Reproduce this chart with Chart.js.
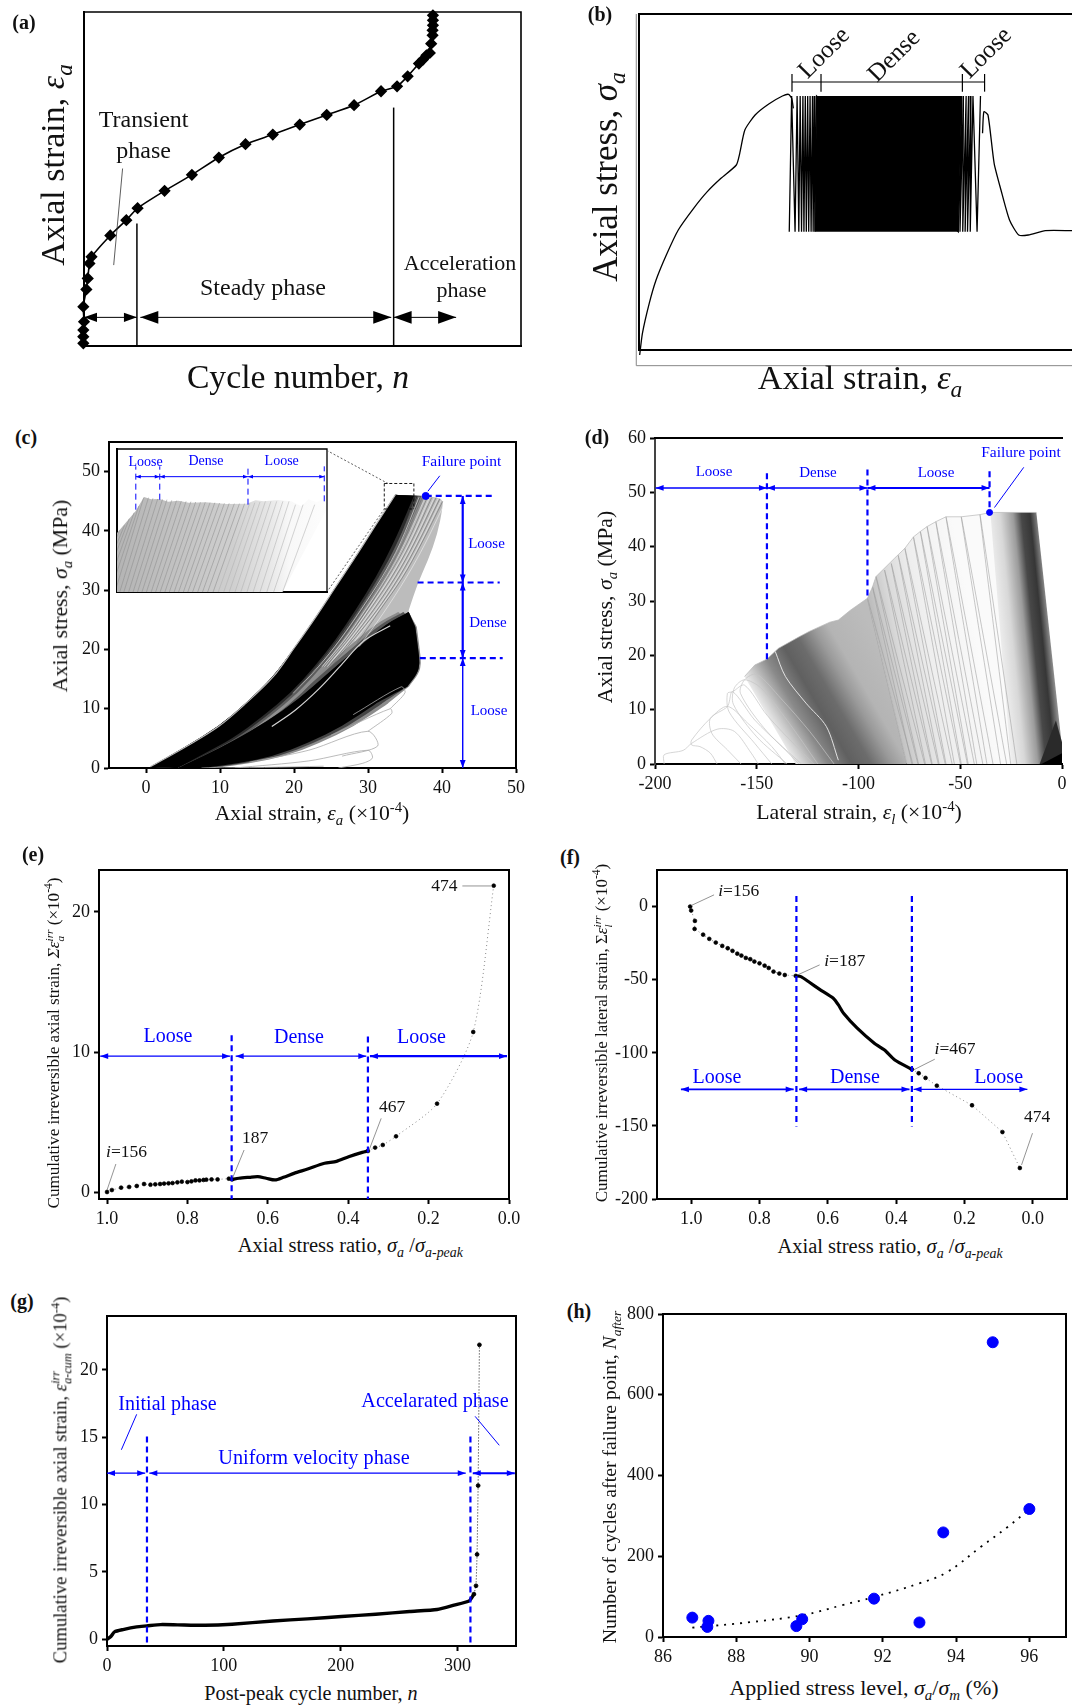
<!DOCTYPE html>
<html>
<head>
<meta charset="utf-8">
<script src="https://cdn.jsdelivr.net/npm/chart.js@4/dist/chart.umd.min.js"></script>
<style>
  html, body { margin: 0; background: #fff; }
  #page { position: relative; width: 1072px; height: 1705px; overflow: hidden; font-family: "Liberation Serif", serif; }
  #page canvas { position: absolute; }
  .t { position: absolute; white-space: nowrap; line-height: 1; }
  .t i { font-style: italic; }
  .t sub, .t sup { font-size: .68em; line-height: 0; }
  .ss { display: inline-block; vertical-align: middle; font-size: .66em; line-height: .95; text-align: left; font-style: italic; }
</style>
</head>
<body>
<div id="page"></div>
<script>
// (a) creep curve, no units on the axes
const aCycle = [-2,-2,-2,0,-2,7,11,16,22,77,124,157,236,316,395,473,553,632,711,791,870,917,948,981,993,1003,1013,1017,1021,1021,1022,1022,1022];
const aStrain = [8,28,48,73,118,170,203,248,268,332,378,414,466,514,566,606,635,665,694,723,765,780,810,848,860,873,880,908,933,948,963,978,993];

// (b) stress-strain, no units on the axes
const bRiseX = [2,10,30,50,80,115,160,200,240,285,295,310,340,380,420,438,447,452];
const bRiseY = [-15,50,140,210,285,360,425,475,515,555,590,660,705,738,762,767,755,725];
const bCycleBotX = [440,457,468,476,483,490,497,504,510,515,935,940,948,955,962,970,990];
const bCycleTopX = [447,463,472,480,487,494,501,508,513,520,945,950,958,965,972,978,1000];
const bTailX = [1006,1010,1022,1040,1060,1085,1112,1140,1190,1268];
const bTailY = [650,715,705,560,480,390,345,345,358,358];

// (c) stress vs axial strain envelopes
const c1UpperX = [0.56,5.4,9.8,13.5,17.2,20,22.8,25.6,28.3,31.1,33.7];
const c1UpperY = [0.2,3.6,7,10.9,15.4,20.2,25.2,30.5,35.6,41.1,46.1];
const c1RightX = [36.2,35,33.4,31.1,28.3,25.6,22.8,19.5,15.8,11.7,8,4.3];
const c1RightY = [45.9,42.3,37.8,32.2,26.6,21.6,17.1,12.6,8.7,5,2.5,0];
const cFanX = [36.9,40.1,40.1,39.4,38.1,36.7,35.5];
const cFanY = [45.9,45.6,44,39.5,35,31.1,26.6];
const c2UpperX = [35.5,32.5,28.8,24.6,20.5,16.3,11.7,8,4.3];
const c2UpperY = [26.3,24.4,20.5,16,11.5,7.8,4.5,2.2,0];
const c2RightX = [36.4,36.8,37,36.7,35.3];
const c2RightY = [23.8,19.9,17.7,16,13.7];
const c2LowerX = [31.1,26.5,21.9,17.2,12.6,7.5];
const c2LowerY = [10.9,7,4.2,2,0.8,0];
const cFanLinesX = [[36.5,34,31.5,28.7,25.9,23.1,19.8],[36.9,34.3,31.9,29,26.2,23.3,19.9],[37.3,34.6,32.2,29.3,26.5,23.5,20],[37.7,34.9,32.5,29.6,26.8,23.8],[38,35.2,32.7,29.8,27,24],[38.3,35.5,33,30,27.1,24.1],[38.6,35.7,33.2,30.2,27.3,24.3],[38.9,36,33.5,30.5,27.5,24.5],[39.2,36.2,33.7,30.7,27.7,24.7],[39.5,36.5,34,31,27.9],[39.7,36.7,34.2,31.2,28,25],[39.9,37,34.5,31.4,28.2],[40.1,37.2,34.7,31.6,28.5],[40.1,37.7,35.2,32,28.8]];
const cFanLinesY = [[45.8,37.8,32.2,26.6,21.6,17.1,12.6],[45.7,37.8,32.2,26.6,21.6,17.1,12.6],[45.6,37.8,32.2,26.6,21.6,17.1,12.6],[45.6,37.8,32.2,26.6,21.6,17.1],[45.6,37.8,32.2,26.6,21.6,17.1],[45.6,37.8,32.2,26.6,21.6,17.1],[45.6,37.8,32.2,26.6,21.6,17.1],[45.5,37.8,32.2,26.6,21.6,17.1],[45.6,37.8,32.2,26.6,21.6,17.1],[45.5,37.8,32.2,26.6,21.6],[45.4,37.8,32.2,26.6,21.6,17.1],[45.2,37.8,32.2,26.6,21.4],[45,37.8,32.2,26.6,21],[44,37.8,32.2,26,20.5]];
const cStreakX = [33,29.4,26.4,23.4,20.2,17];
const cStreakY = [24,21.4,17.4,13.4,9.8,7];
const cLoopsX = [[26,29.3,30.6,30,22,12],[26.5,31.3,30,22,14],[30,33.2,33,25],[33,35,34.5,28],[7.5,16,24]];
const cLoopsY = [[0,0.8,1.7,3,1.2,0],[2,3.7,6.2,3,1],[6.2,9.2,10,5.5],[10,12.7,13.7,9],[0,0.1,0.3]];
const cFailX = [37.8];
const cFailY = [45.9];
const cTicksX = [0,10,20,30,40,50];
const cTicksY = [0,10,20,30,40,50];

// (c) inset, local zoomed units
const insetEdgeX = [0,0,54,79,100,124,150,179,210,259,320,379,405,429,470,509,539,560,584,600,609,614,484];
const insetEdgeY = [0,177,242,285,278,279,271,274,268,269,264,265,275,272,276,272,257,278,269,280,257,250,0];
const insetBotX = [-90,-74,-60,-47,-33,-20,-6,8,20,34,47,60,73,86,100,113,126,140,153,167,180,194,207,221,236,250,265,281,296,312,328,345,362,380,398,418,438,458,484];
const insetTopX = [-8,8,22,36,50,64,78,92,105,119,133,146,160,174,188,202,216,230,244,258,272,286,300,314,328,343,358,373,388,403,418,434,450,467,485,503,522,544,578];
const insetTopY = [170,185,200,220,238,258,283,283,281,279,278,277,275,274,273,272,271,270,269,269,268,268,267,266,266,265,265,265,266,268,270,272,272,272,272,272,262,262,262];

// (d) stress vs lateral strain
const dEnvX = [-12.6,-35.2,-40.3,-49.5,-57,-62,-66.3,-69.6,-73,-77.2,-82.2,-91.4,-93.1,-95.6,-104,-109.9,-114.1,-124.2,-129.2,-139.3,-145.1,-151,-156];
const dEnvY = [46.3,46.3,45.9,45.5,45.5,44.6,43.7,42.8,41.8,39.7,37.9,34.5,32.6,30.5,28.3,26.5,26.1,24.4,23.4,21.3,19.3,18.2,16.1];
const dLoopTopX = [-40.3,-49.5,-57,-62,-66.3,-69.6,-73,-77.2,-80.5,-83.9,-87.2,-91.4,-93.1,-95.6];
const dLoopTopY = [45.9,45.5,45.5,44.6,43.7,42.8,41.8,39.7,38.4,36.9,35.7,34.5,32.6,30.5];
const dLoopBotX = [-25.2,-30.2,-36.9,-41.9,-46.1,-49.5,-52.9,-57,-60.4,-63.8,-67.1,-70.5,-73.8,-76.3];
const dOuterLoopsX = [[-195.5,-195.5,-186.2,-182,-169.5,-161,-152.7,-149.3],[-169.5,-172.8,-177.9,-182,-182,-172.8,-164.4,-154.4,-142.6,-135.9],[-157.7,-164.4,-172,-172.8,-164.4,-161.9,-151,-137.6,-129.2],[-142.6,-151,-163.6,-164.4,-161.9,-156,-145,-130,-122],[-135,-150,-161.5,-161,-156,-148,-135,-120],[-128,-145,-158,-156,-150,-138,-124,-112]];
const dOuterLoopsY = [[0,1.7,2.5,3.8,6.4,6,2,0],[0,2,3.2,3.5,4.4,8.4,10.6,7.5,3.2,0],[0,2.6,5.6,8.4,10.6,13.3,8.1,3.2,0],[0,3.8,9.6,13,13.3,14.5,9,3,0],[0,5,11,14,15.5,14,8,0],[0,6,13,15.5,16.5,12,6,0]];
const dWhiteX = [-140.9,-135.9,-125.8,-115.8,-109.9];
const dWhiteY = [20.7,16.1,11.2,6.9,0.7];
const dFailX = [-35.6];
const dFailY = [46.3];
const dTicksX = [-200,-150,-100,-50,0];
const dTicksY = [0,10,20,30,40,50,60];

// (e) cumulative irreversible axial strain
const eRatio = [1,0.988,0.965,0.945,0.926,0.908,0.892,0.88,0.868,0.858,0.847,0.837,0.825,0.814,0.8,0.79,0.78,0.77,0.76,0.753,0.74,0.725,0.697,0.689];
const eStrain = [0,0.14,0.31,0.36,0.43,0.57,0.52,0.55,0.57,0.6,0.62,0.64,0.69,0.74,0.71,0.76,0.83,0.83,0.86,0.88,0.9,0.9,0.95,0.9];
const eDenseRatio = [0.689,0.672,0.646,0.625,0.604,0.582,0.561,0.535,0.501,0.459,0.429,0.399,0.365,0.351];
const eDenseStrain = [0.9,0.98,1.05,1.1,0.98,0.86,1.05,1.33,1.64,2.05,2.19,2.52,2.83,2.93];
const eEndRatio = [0.351,0.333,0.314,0.281,0.179,0.089,0.038];
const eEndStrain = [2.93,3.17,3.36,3.98,6.31,11.43,21.88];
const eTicksX = [1,0.8,0.6,0.4,0.2,0];
const eTicksY = [0,10,20];

// (f) cumulative irreversible lateral strain
const fRatio = [1.003,1,0.989,0.99,0.965,0.947,0.928,0.909,0.893,0.879,0.865,0.853,0.84,0.827,0.815,0.8,0.785,0.773,0.759,0.742,0.726,0.694];
const fStrain = [0,-2.7,-9.8,-15.3,-19.2,-22.1,-24.6,-26.9,-28.5,-30.3,-32.2,-33.5,-35.1,-36,-37.6,-38.8,-40.4,-42,-44.5,-45.8,-46.8,-47.4];
const fDenseRatio = [0.694,0.679,0.654,0.624,0.584,0.569,0.554,0.514,0.464,0.434,0.404,0.354];
const fDenseStrain = [-47.4,-47.9,-51.8,-56.6,-62.7,-67.3,-73,-83.2,-93.5,-98.1,-104.9,-111.3];
const fEndRatio = [0.354,0.334,0.314,0.281,0.178,0.089,0.038];
const fEndStrain = [-111.3,-114,-117.2,-122.5,-135.9,-154.2,-178.8];
const fTicksX = [1,0.8,0.6,0.4,0.2,0];
const fTicksY = [-200,-150,-100,-50,0];

// (g) post-peak cycles
const gCycle = [0,3.5,6.4,13.7,25.4,34,46,60.5,84,107,142,171.5,200.7,230,259,282.5,297,310,314];
const gStrain = [0,0.22,0.55,0.72,0.92,0.99,1.09,1.07,1.04,1.12,1.36,1.51,1.69,1.86,2.06,2.21,2.53,2.85,3.35];
const gEndCycle = [314,315.8,316.7,317.6,318.7];
const gEndStrain = [3.35,3.97,6.3,11.41,21.86];
const gTicksX = [0,100,200,300];
const gTicksY = [0,5,10,15,20];

// (h) cycles after failure point
const hLevel = [86.8,87.24,87.21,89.64,89.8,91.76,93,93.65,95,96];
const hCycles = [48,40,25,27,44,95,36,259,730,317];
const hTrendLevel = [86.8,88.4,89.8,90.9,91.76,93,93.74,94.7,95.4,96];
const hTrendCycles = [23,37,54,79,99,133,160,225,272,316];
const hTicksX = [86,88,90,92,94,96];
const hTicksY = [0,200,400,600,800];

const page = document.getElementById("page");
const BLUE = "#0000ff";
const FONT = "'Liberation Serif', serif";

function pairs(xs, ys) {
  return xs.map((x, i) => ({ x: x, y: ys[i] }));
}

function ser(xs, ys, opts) {
  return Object.assign({
    data: pairs(xs, ys), showLine: true, pointRadius: 0, borderColor: "#000",
    borderWidth: 1, backgroundColor: "#000", fill: false,
  }, opts);
}

function seg(x1, y1, x2, y2, opts) {
  return Object.assign({ x1, y1, x2, y2, color: "#000", w: 1 }, opts);
}

function blueDash(x1, y1, x2, y2, w) {
  return seg(x1, y1, x2, y2, { color: BLUE, w: w || 2.2, dash: [6, 4] });
}

function blueArrow(x1, y1, x2, y2, w, head) {
  return seg(x1, y1, x2, y2, { color: BLUE, w: w || 1.5, arrow: true, head: head || 8 });
}

function leader(x1, y1, x2, y2) {
  return seg(x1, y1, x2, y2, { color: "#666", w: 0.7 });
}

function blueLine(x1, y1, x2, y2) {
  return seg(x1, y1, x2, y2, { color: BLUE, w: 1 });
}

// joins outline runs into one polygon, end points doubled so they stay sharp when smoothed
function outline(runs, color, smooth) {
  const x = [], y = [];
  runs.forEach((r) => {
    const last = r[0].length - 1;
    x.push(r[0][0]); y.push(r[1][0]);
    r[0].forEach((v, i) => { x.push(v); y.push(r[1][i]); });
    x.push(r[0][last]); y.push(r[1][last]);
  });
  return { x, y, color, smooth };
}

function shift(xs, d) {
  return xs.map((v) => v + d);
}

function back(a) {
  return a.slice().reverse();
}

// polygons under the lines, segments and arrowheads over them, all through the scales
function marksPlugin(cfg) {
  const px = (c, v) => c.scales.x.getPixelForValue(v);
  const py = (c, v) => c.scales.y.getPixelForValue(v);
  return {
    id: "marks",
    beforeDatasetsDraw(c) {
      const ctx = c.ctx, a = c.chartArea;
      ctx.save();
      ctx.beginPath();
      ctx.rect(a.left, a.top, a.width, a.height);
      ctx.clip();
      (cfg.polys || []).forEach((p) => {
        const pts = p.x.map((v, i) => [px(c, v), py(c, p.y[i])]);
        ctx.beginPath();
        if (p.smooth) {
          const n = pts.length;
          const mid = (i) => [(pts[i % n][0] + pts[(i + 1) % n][0]) / 2, (pts[i % n][1] + pts[(i + 1) % n][1]) / 2];
          ctx.moveTo(mid(n - 1)[0], mid(n - 1)[1]);
          pts.forEach((q, i) => { const m = mid(i); ctx.quadraticCurveTo(q[0], q[1], m[0], m[1]); });
        } else {
          pts.forEach((q) => ctx.lineTo(q[0], q[1]));
        }
        ctx.closePath();
        if (p.grad) {
          const g = ctx.createLinearGradient(a.left, 0, a.right, 0);
          p.grad.forEach((s) => g.addColorStop(s[0], s[1]));
          ctx.fillStyle = g;
        } else if (p.skew) {
          // gradient whose bands lean by s px sideways for each px down
          const k = p.skew;
          const X0 = px(c, k.x0), D = px(c, k.x1) - X0, Y = py(c, k.y), m = D / (1 + k.s * k.s);
          const g = ctx.createLinearGradient(X0, Y, X0 + m, Y - m * k.s);
          k.stops.forEach((s) => g.addColorStop(s[0], s[1]));
          ctx.fillStyle = g;
        } else {
          ctx.fillStyle = p.color;
        }
        ctx.fill();
      });
      ctx.restore();
    },
    afterDatasetsDraw(c) {
      const ctx = c.ctx, a = c.chartArea;
      ctx.save();
      (cfg.segs || []).forEach((s) => {
        const x1 = px(c, s.x1), y1 = py(c, s.y1), x2 = px(c, s.x2), y2 = py(c, s.y2);
        ctx.strokeStyle = s.color;
        ctx.fillStyle = s.color;
        ctx.lineWidth = s.w;
        ctx.setLineDash(s.dash || []);
        ctx.beginPath();
        ctx.moveTo(x1, y1);
        ctx.lineTo(x2, y2);
        ctx.stroke();
        if (s.arrow) {
          ctx.setLineDash([]);
          const h = s.head || 8, t = Math.atan2(y2 - y1, x2 - x1);
          [[x2, y2, t], [x1, y1, t + Math.PI]].forEach((e) => {
            ctx.save();
            ctx.translate(e[0], e[1]);
            ctx.rotate(e[2]);
            ctx.beginPath();
            ctx.moveTo(0, 0);
            ctx.lineTo(-h, -h * 0.36);
            ctx.lineTo(-h, h * 0.36);
            ctx.closePath();
            ctx.fill();
            ctx.restore();
          });
        }
      });
      ctx.setLineDash([]);
      const w = cfg.frameWidth || 2;
      ctx.strokeStyle = "#000";
      ctx.lineWidth = w;
      ctx.beginPath();
      if (cfg.frameTop !== false) { ctx.moveTo(a.left - w / 2, a.top); ctx.lineTo(a.right + w / 2, a.top); }
      if (cfg.frameRight !== false) { ctx.moveTo(a.right, a.top); ctx.lineTo(a.right, a.bottom); }
      ctx.stroke();
      ctx.restore();
    },
  };
}

function axis(min, max, ticks, size, opts, reverse, onFit) {
  const hasTicks = ticks && ticks.length > 0;
  return {
    type: "linear", min: min, max: max, reverse: !!reverse,
    afterBuildTicks: (s) => { s.ticks = (ticks || []).map((v) => ({ value: v })); },
    afterFit: (s) => {
      onFit(s);
      // keep half a tick label from eating into the plot rectangle
      s.paddingLeft = s.paddingRight = s.paddingTop = s.paddingBottom = 0;
    },
    grid: { display: hasTicks, drawOnChartArea: false, drawTicks: hasTicks, tickLength: 5, tickWidth: 2, tickColor: "#000" },
    border: { display: true, color: (opts && opts.borderColor) || "#000", width: (opts && opts.borderWidth) || 2 },
    ticks: {
      display: hasTicks, autoSkip: false, maxRotation: 0, padding: 4, color: "#111",
      font: { family: FONT, size: size || 18 },
      callback: (opts && opts.format) || ((v) => String(v)),
    },
  };
}

function panel(rect, xs, ys, datasets, marks, margin) {
  const m = Object.assign({ l: 62, b: 34, t: 14, r: 16 }, margin);
  const cv = document.createElement("canvas");
  cv.width = rect.w + m.l + m.r;
  cv.height = rect.h + m.t + m.b;
  cv.style.left = (rect.x - m.l) + "px";
  cv.style.top = (rect.y - m.t) + "px";
  page.appendChild(cv);
  datasets.forEach((d, i) => { d.order = -i; });
  return new Chart(cv, {
    type: "scatter",
    data: { datasets: datasets },
    options: {
      responsive: false, animation: false, maintainAspectRatio: false,
      layout: { autoPadding: false, padding: { top: m.t, right: m.r, left: 0, bottom: 0 } },
      plugins: { legend: { display: false }, tooltip: { enabled: false } },
      scales: {
        x: axis(xs[0], xs[1], xs[2], xs[3], xs[4], xs[5], (s) => { s.height = m.b; }),
        y: axis(ys[0], ys[1], ys[2], ys[3], ys[4], false, (s) => { s.width = m.l; }),
      },
    },
    plugins: [marksPlugin(marks || {})],
  });
}

function text(html, x, y, size, opts) {
  const o = opts || {};
  const d = document.createElement("div");
  d.className = "t";
  d.innerHTML = html;
  d.style.left = x + "px";
  d.style.top = y + "px";
  d.style.fontSize = size + "px";
  d.style.color = o.color || "#111";
  if (o.bold) d.style.fontWeight = "bold";
  d.style.transform = "translate(-50%,-50%)" + (o.rot ? " rotate(" + o.rot + "deg)" : "");
  page.appendChild(d);
}

// (a)
panel({ x: 84, y: 12, w: 437, h: 334 }, [0, 1280], [0, 1003],
  [
    ser(aCycle, aStrain, { borderWidth: 1.6, tension: 0.2, pointRadius: 5, pointStyle: "rectRot", pointBackgroundColor: "#000", clip: false }),
  ],
  { frameWidth: 1.6, segs: [
    seg(155, 0, 155, 368, { w: 1.5 }),
    seg(907, 0, 907, 716, { w: 1.5 }),
    seg(0, 86, 155, 86, { arrow: true, head: 13 }),
    seg(165, 86, 900, 86, { arrow: true, head: 18 }),
    seg(907, 86, 1090, 86, { arrow: true, head: 18 }),
    seg(113, 533, 87, 243, { w: 0.8, color: "#333" }),
  ] });

// (b)
const bZig = [];
bCycleBotX.forEach((x, i) => {
  bZig.push({ x: x, y: 355 });
  bZig.push({ x: bCycleTopX[i], y: 762 });
});
panel({ x: 638.5, y: 14, w: 433.5, h: 336 }, [0, 1268], [0, 1008],
  [
    ser(bRiseX, bRiseY, { borderWidth: 1.3, tension: 0.2, clip: false }),
    { data: bZig, showLine: true, pointRadius: 0, borderColor: "#000", borderWidth: 1.3 },
    ser(bTailX, bTailY, { borderWidth: 1.3, tension: 0.2 }),
  ],
  { frameRight: false, polys: [
    { x: [515, 935, 945, 520], y: [355, 355, 762, 762], color: "#000" },
  ], segs: [
    seg(-8, 1008, -8, -47, { color: "#888", w: 1 }),
    seg(-8, -47, 1268, -47, { color: "#888", w: 1 }),
    seg(448, 804, 1012, 804, { w: 1.2 }),
    seg(448, 775, 448, 828, { w: 1.2 }),
    seg(533, 775, 533, 828, { w: 1.2 }),
    seg(947, 775, 947, 828, { w: 1.2 }),
    seg(1012, 775, 1012, 828, { w: 1.2 }),
  ] }, { r: 0 });

// (c)
const cDatasets = [];
cFanLinesX.forEach((xs, i) => {
  cDatasets.push(ser(xs, cFanLinesY[i], { borderColor: i % 2 ? "#f2f2f2" : "#6a6a6a", borderWidth: 0.6, tension: 0.35 }));
});
cLoopsX.forEach((xs, i) => {
  cDatasets.push(ser(xs, cLoopsY[i], { borderColor: "#aaa", borderWidth: 0.8, tension: 0.3 }));
});
cDatasets.push(ser(cStreakX, cStreakY, { borderColor: "#d4d4d4", borderWidth: 1.2, tension: 0.35 }));
cDatasets.push(ser(c1UpperX, c1UpperY, { borderColor: "#bbb", borderWidth: 1.2, tension: 0.35 }));
cDatasets.push(ser(cFailX, cFailY, { showLine: false, pointRadius: 3.5, pointBackgroundColor: BLUE, pointBorderColor: BLUE }));

const c1Up = [c1UpperX, c1UpperY];
const c1Right = [c1RightX, c1RightY];
const cRevFan = [back(cFanX), back(cFanY)];
const c2Up = [c2UpperX, c2UpperY];
const c2Low = [back(c2LowerX), back(c2LowerY)];
const c2Rt = [back(c2RightX), back(c2RightY)];
panel({ x: 108.7, y: 442, w: 407, h: 326 }, [-5, 50, cTicksX, 18], [0, 55, cTicksY, 18], cDatasets, {
  polys: [
    outline([c1Right, [back(c2UpperX), back(c2UpperY)], cRevFan], "#bcbcbc", true),
    outline([[shift(c2UpperX, -1.4), c2UpperY], c2Low, c2Rt], "#8c8c8c", true),
    outline([[shift(c2UpperX, -0.7), c2UpperY], c2Low, c2Rt], "#555555", true),
    outline([[shift(c1RightX, 1.6), c1RightY], c1Up], "#8f8f8f", true),
    outline([[shift(c1RightX, 1), c1RightY], c1Up], "#5c5c5c", true),
    outline([[shift(c1RightX, 0.5), c1RightY], c1Up], "#2c2c2c", true),
    outline([c1Up, c1Right], "#000", true),
    outline([c2Up, [back(shift(c2LowerX, 1.6)), back(c2LowerY)], [back(shift(c2RightX, 0.2)), back(c2RightY)]], "#8c8c8c", true),
    outline([c2Up, [back(shift(c2LowerX, 0.8)), back(c2LowerY)], c2Rt], "#444", true),
    outline([c2Up, c2Low, c2Rt], "#000", true),
  ],
  segs: [
    seg(32.2, 43.7, 36.2, 43.7, { w: 0.9, dash: [3, 2] }),
    seg(32.2, 48, 36.2, 48, { w: 0.9, dash: [3, 2] }),
    seg(32.2, 48, 32.2, 43.7, { w: 0.9, dash: [3, 2] }),
    seg(36.2, 48, 36.2, 43.7, { w: 0.9, dash: [3, 2] }),
    seg(24.4, 53.6, 32.7, 48, { w: 0.8, dash: [2, 2], color: "#333" }),
    seg(24.4, 29.6, 32.2, 43.7, { w: 0.8, dash: [2, 2], color: "#333" }),
    blueDash(37.8, 45.9, 46.9, 45.9),
    blueDash(36.7, 31.3, 47.8, 31.3),
    blueDash(37, 18.55, 48.2, 18.55),
    blueArrow(42.8, 45.9, 42.8, 31.3, 2.2, 8),
    blueArrow(42.8, 31.3, 42.8, 18.55, 2.2, 8),
    blueArrow(42.8, 18.55, 42.8, 0, 1.4, 8),
    seg(39.7, 49.3, 38.1, 46.7, { color: BLUE, w: 1 }),
  ],
});

// inset of (c)
const insetSets = insetBotX.map((b, i) => ser([b, insetTopX[i]], [0, insetTopY[i]], { borderColor: i < 28 ? "#8d8d8d" : "#b0b0b0", borderWidth: 0.55 }));
const insetChart = panel({ x: 116.6, y: 449, w: 210, h: 143 }, [0, 614], [0, 429], insetSets, {
  frameWidth: 1.3,
  polys: [
    { x: insetEdgeX, y: insetEdgeY, grad: [[0, "#b4b4b4"], [0.55, "#cfcfcf"], [0.72, "#e6e6e6"], [0.82, "#f8f8f8"], [1, "#fdfdfd"]] },
  ],
  segs: [
    blueDash(55, 247, 55, 377, 1), blueDash(125, 277, 125, 377, 1),
    blueDash(383, 262, 383, 372, 1), blueDash(606, 272, 606, 377, 1),
    blueArrow(55, 346, 125, 346, 1, 5), blueArrow(125, 346, 383, 346, 1, 5), blueArrow(383, 346, 606, 346, 1, 5),
  ],
}, { l: 1, b: 1, t: 1, r: 1 });
insetChart.canvas.style.background = "#fff";

// (d)
const dDatasets = [];
dLoopTopX.forEach((tx, i) => {
  dDatasets.push(ser([dLoopBotX[i], tx, dLoopBotX[i] + 3], [0, dLoopTopY[i], 0], { borderColor: "#9a9a9a", borderWidth: 0.55, tension: 0.15 }));
});
dOuterLoopsX.forEach((xs, i) => {
  dDatasets.push(ser(xs, dOuterLoopsY[i], { borderColor: "#c4c4c4", borderWidth: 0.7, tension: 0.3 }));
});
dDatasets.push(ser(dEnvX, dEnvY, { borderColor: "#b8b8b8", borderWidth: 0.7 }));
dDatasets.push(ser(dWhiteX, dWhiteY, { borderColor: "#eee", borderWidth: 0.9, tension: 0.3 }));
dDatasets.push(ser(dFailX, dFailY, { showLine: false, pointRadius: 3, pointBackgroundColor: BLUE, pointBorderColor: BLUE }));

panel({ x: 655, y: 438, w: 407.5, h: 326 }, [-200, 0, dTicksX, 18], [0, 60, dTicksY, 18, { borderColor: "#444" }], dDatasets, {
  frameRight: false,
  polys: [
    { x: [-156, -151, -145.1, -139.3, -129.2, -124.2, -114.1, -109.9, -104, -95.6, -76.3, -130.9], y: [16.1, 18.2, 19.3, 21.3, 23.4, 24.4, 26.1, 26.5, 28.3, 30.5, 0, 0],
      skew: { x0: -150, x1: -70, y: 10, s: 0.58, stops: [[0.03, "#f0f0f0"], [0.11, "#cbcbcb"], [0.24, "#8a8a8a"], [0.39, "#606060"], [0.51, "#6c6c6c"], [0.64, "#9a9a9a"], [0.74, "#b4b4b4"], [1, "#bcbcbc"]] } },
    { x: [-95.6, -93.1, -91.4, -82.2, -77.2, -73, -69.6, -66.3, -62, -57, -49.5, -40.3, -35.2, -20, -76.3], y: [30.5, 32.6, 34.5, 37.9, 39.7, 41.8, 42.8, 43.7, 44.6, 45.5, 45.5, 45.9, 46.3, 0, 0],
      skew: { x0: -84, x1: -35, y: 10, s: 0.2, stops: [[0, "#bcbcbc"], [0.2, "#d8d8d8"], [0.5, "#eeeeee"], [1, "#fafafa"]] } },
    { x: [-35.2, -12.6, -0.2, 0, -25], y: [46.3, 46.3, 3.8, 0, 0],
      skew: { x0: -32, x1: -5, y: 20, s: 0.1, stops: [[0, "#f6f6f6"], [0.31, "#d8d8d8"], [0.55, "#9c9c9c"], [0.7, "#484848"], [0.86, "#363636"], [1, "#8c8c8c"]] } },
    { x: [-11, -3, 0, 0], y: [0, 8, 4, 0], color: "#2a2a2a" },
    { x: [-10.1, 0, 0], y: [0, 2, 0], color: "#000" },
  ],
  segs: [
    blueDash(-145, 53.5, -145, 19.3), blueDash(-95.6, 54.2, -95.6, 30.5), blueDash(-35.6, 53.9, -35.6, 46.4),
    blueArrow(-199.7, 50.8, -145, 50.8, 1.5), blueArrow(-145, 50.8, -95.6, 50.8, 1.5), blueArrow(-95.6, 50.8, -35.6, 50.8, 2, 8),
    seg(-18.8, 54.6, -33.2, 47.2, { color: BLUE, w: 1 }),
  ],
});

// (e)
panel({ x: 99, y: 870, w: 410, h: 329 }, [0, 1.02, eTicksX, 18, { format: (v) => v.toFixed(1) }, true], [-0.5, 23, eTicksY, 18], [
  ser(eRatio, eStrain, { borderColor: "#555", borderWidth: 0.7, borderDash: [1, 3], pointRadius: 1.9, pointBackgroundColor: "#000", pointBorderColor: "#000" }),
  ser(eDenseRatio, eDenseStrain, { borderWidth: 3.2, tension: 0.25 }),
  ser(eEndRatio, eEndStrain, { borderColor: "#555", borderWidth: 0.7, borderDash: [1, 3], pointRadius: 1.9, pointBackgroundColor: "#000", pointBorderColor: "#000", tension: 0.25 }),
], {
  segs: [
    blueDash(0.69, 11.2, 0.69, -0.5), blueDash(0.351, 11.1, 0.351, -0.5),
    blueArrow(1.017, 9.7, 0.694, 9.7, 1.3), blueArrow(0.68, 9.7, 0.355, 9.7, 1.3), blueArrow(0.346, 9.7, 0.005, 9.7, 2.2),
    leader(0.116, 21.86, 0.045, 21.86), leader(0.659, 3, 0.687, 1.05), leader(0.978, 2, 1, 0.14), leader(0.318, 5.26, 0.348, 3),
  ],
});

// (f)
panel({ x: 657, y: 870, w: 410, h: 329 }, [-0.1, 1.1, fTicksX, 18, { format: (v) => v.toFixed(1) }, true], [-200, 25, fTicksY, 18], [
  ser(fRatio, fStrain, { borderColor: "#555", borderWidth: 0.7, borderDash: [1, 3], pointRadius: 1.9, pointBackgroundColor: "#000", pointBorderColor: "#000" }),
  ser(fDenseRatio, fDenseStrain, { borderWidth: 3.2, tension: 0.2 }),
  ser(fEndRatio, fEndStrain, { borderColor: "#555", borderWidth: 0.7, borderDash: [1, 3], pointRadius: 1.9, pointBackgroundColor: "#000", pointBorderColor: "#000" }),
], {
  segs: [
    blueDash(0.692, 7.3, 0.692, -150.5), blueDash(0.354, 7.3, 0.354, -150.5),
    blueArrow(1.03, -125, 0.7, -125, 1.8), blueArrow(0.684, -125, 0.361, -125, 1.8), blueArrow(0.349, -125, 0.016, -125, 1.3),
    leader(0.933, 8, 1, 0.7), leader(0.624, -39.9, 0.689, -46.8), leader(0.287, -104.4, 0.349, -111.7), leader(0.001, -155, 0.033, -176.7),
  ],
});

// (g)
panel({ x: 107, y: 1316, w: 409, h: 330 }, [0, 350, gTicksX, 18], [-0.5, 24, gTicksY, 18], [
  ser(gCycle, gStrain, { borderWidth: 3.4, tension: 0.2 }),
  ser(gEndCycle, gEndStrain, { borderWidth: 0.9, borderDash: [1, 2], pointRadius: 1.9, pointBackgroundColor: "#000", pointBorderColor: "#000" }),
], {
  segs: [
    blueDash(34.2, 15.06, 34.2, -0.5), blueDash(311, 15.06, 311, -0.5),
    blueArrow(0, 12.33, 32.7, 12.33, 1.3), blueArrow(36.2, 12.33, 307, 12.33, 1.3), blueArrow(313, 12.33, 349, 12.33, 2),
    blueLine(25.4, 16.7, 12.3, 14.07), blueLine(315, 16.55, 335.7, 14.4),
  ],
});

// (h)
panel({ x: 663, y: 1314, w: 403.5, h: 323 }, [86, 97, hTicksX, 18], [0, 800, hTicksY, 18], [
  ser(hTrendLevel, hTrendCycles, { borderWidth: 1.8, borderDash: [2, 6], tension: 0.4 }),
  ser(hLevel, hCycles, { showLine: false, pointRadius: 5.5, pointBackgroundColor: BLUE, pointBorderColor: BLUE }),
]);

// text
const sa = "<i>σ<sub>a</sub></i>";
const ea = "<i>ε<sub>a</sub></i>";
const e4 = "(×10<sup>-4</sup>)";

[["(a)", 24, 22], ["(b)", 600, 14], ["(c)", 26, 437], ["(d)", 597, 437], ["(e)", 33, 854], ["(f)", 570, 857], ["(g)", 22, 1301], ["(h)", 579, 1311]]
  .forEach((t) => text(t[0], t[1], t[2], 20, { bold: true }));

text("Axial strain, " + ea, 53, 165, 34, { rot: -90 });
text("Cycle number, <i>n</i>", 298, 377, 33.7);
text("Transient", 143.6, 119, 24);
text("phase", 143.6, 150, 24);
text("Steady phase", 263, 287, 24);
text("Acceleration", 460, 263, 22);
text("phase", 461.5, 290, 22);

text("Axial stress, " + sa, 606, 177, 34.8, { rot: -90 });
text("Axial strain, " + ea, 860, 377, 34.5);
text("Loose", 822.5, 52, 25, { rot: -45 });
text("Dense", 892.6, 55, 25, { rot: -45 });
text("Loose", 985, 52, 25, { rot: -45 });

text("Axial stress, " + sa + " (MPa)", 61, 596, 21.8, { rot: -90 });
text("Axial strain, " + ea + " " + e4, 312, 814, 21.7);
text("Failure point", 461.5, 461, 15.5, { color: BLUE });
text("Loose", 486.5, 543, 15, { color: BLUE });
text("Dense", 488, 622, 15, { color: BLUE });
text("Loose", 489, 710, 15, { color: BLUE });
text("Loose", 145.6, 462, 14, { color: BLUE });
text("Dense", 206, 461, 14, { color: BLUE });
text("Loose", 281.7, 461, 14, { color: BLUE });

text("Axial stress, " + sa + " (MPa)", 606, 607, 21.8, { rot: -90 });
text("Lateral strain, <i>ε<sub>l</sub></i> " + e4, 859, 813, 21.8);
text("Failure point", 1021, 452, 15.5, { color: BLUE });
text("Loose", 714, 471, 15, { color: BLUE });
text("Dense", 818, 472, 15, { color: BLUE });
text("Loose", 936, 472, 15, { color: BLUE });

const ratioA = "Axial stress ratio, " + sa + " /<i>σ<sub>a-peak</sub></i>";
text('Cumulative irreversible axial strain, <i>Σε</i><span class="ss">irr<br>a</span> ' + e4, 55.4, 1043, 17.1, { rot: -90 });
text(ratioA, 350.4, 1245, 20.5);
text("Loose", 168, 1035, 20, { color: BLUE });
text("Dense", 299, 1036, 20, { color: BLUE });
text("Loose", 421.5, 1036, 20, { color: BLUE });
text("474", 444.4, 886, 17.5);
text("<i>i</i>=156", 126.5, 1152, 17.5);
text("187", 255, 1138, 17.5);
text("467", 392, 1107, 17.5);

text('Cumulative irreversible lateral strain, Σ<i>ε</i><span class="ss">irr<br>l</span> ' + e4, 603, 1033, 17, { rot: -90 });
text(ratioA, 890, 1246, 20.5);
text("Loose", 717, 1076, 20, { color: BLUE });
text("Dense", 855, 1076, 20, { color: BLUE });
text("Loose", 998.6, 1076, 20, { color: BLUE });
text("<i>i</i>=156", 738.7, 891, 17.5);
text("<i>i</i>=187", 844.7, 961, 17.5);
text("<i>i</i>=467", 955, 1049, 17.5);
text("474", 1037, 1117, 17.5);

text('Cumulative irreversible axial strain, <i>ε</i><span class="ss">irr<br>a-cum</span> ' + e4, 61.5, 1480, 18.6, { rot: -90 });
text("Post-peak cycle number, <i>n</i>", 311, 1693, 20.2);
text("Initial phase", 167.5, 1403, 20, { color: BLUE });
text("Accelarated phase", 435, 1400, 20.2, { color: BLUE });
text("Uniform velocity phase", 314, 1457, 20.3, { color: BLUE });

text("Number of cycles after failure point, <i>N<sub>after</sub></i>", 609.5, 1477, 19.8, { rot: -90 });
text("Applied stress level, " + sa + "/<i>σ<sub>m</sub></i> (%)", 864, 1688, 22);
</script>
</body>
</html>
